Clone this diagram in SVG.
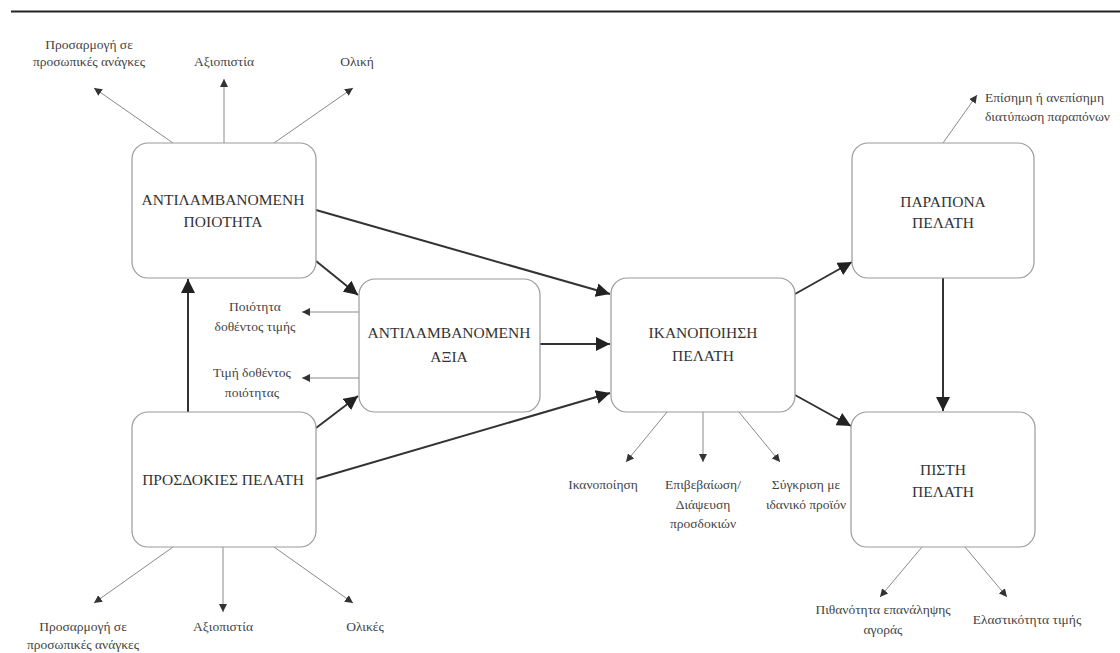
<svg xmlns="http://www.w3.org/2000/svg" width="1120" height="653" viewBox="0 0 1120 653">
  <defs>
    <style>
      .box { fill: #ffffff; stroke: #9a9a9a; stroke-width: 1.2; }
      .title { font-size: 15.5px; fill: #333333; text-anchor: middle; }
      .lbl { font-size: 13.5px; fill: #444444; text-anchor: middle; }
      .main { stroke: #333333; stroke-width: 2; fill: none; }
      .thin { stroke: #8a8a8a; stroke-width: 1; fill: none; }
    </style>
    <marker id="big" viewBox="0 0 10 10" refX="10" refY="5" markerWidth="7" markerHeight="7" markerUnits="strokeWidth" orient="auto">
      <path d="M0,0 L10,5 L0,10 z" fill="#222222"/>
    </marker>
    <marker id="small" viewBox="0 0 10 10" refX="10" refY="5" markerWidth="8" markerHeight="8" markerUnits="strokeWidth" orient="auto">
      <path d="M0,0 L10,5 L0,10 z" fill="#333333"/>
    </marker>
  </defs>

  <rect width="1120" height="653" fill="#ffffff"/>

  <!-- header rule -->
  <line x1="11" y1="11.5" x2="1120" y2="11.5" stroke="#222222" stroke-width="2"/>

  <!-- connectors -->
  <g id="connectors">
    <!-- main flows -->
    <line class="main" x1="316" y1="210" x2="610" y2="294" marker-end="url(#big)"/>
    <line class="main" x1="316" y1="261" x2="358" y2="295" marker-end="url(#big)"/>
    <line class="main" x1="188" y1="412" x2="188" y2="279" marker-end="url(#big)"/>
    <line class="main" x1="316" y1="428" x2="358" y2="396" marker-end="url(#big)"/>
    <line class="main" x1="316" y1="479" x2="610" y2="393" marker-end="url(#big)"/>
    <line class="main" x1="540" y1="344" x2="610" y2="344" marker-end="url(#big)"/>
    <line class="main" x1="795" y1="294" x2="852" y2="262" marker-end="url(#big)"/>
    <line class="main" x1="795" y1="395" x2="851" y2="426" marker-end="url(#big)"/>
    <line class="main" x1="943" y1="278" x2="943" y2="411" marker-end="url(#big)"/>

    <!-- dimensions of perceived quality -->
    <line class="thin" x1="173" y1="143" x2="94" y2="88" marker-end="url(#small)"/>
    <line class="thin" x1="224" y1="143" x2="224" y2="79" marker-end="url(#small)"/>
    <line class="thin" x1="274" y1="143" x2="353" y2="88" marker-end="url(#small)"/>

    <!-- dimensions of perceived value -->
    <line class="thin" x1="359" y1="312" x2="302" y2="312" marker-end="url(#small)"/>
    <line class="thin" x1="359" y1="378" x2="302" y2="378" marker-end="url(#small)"/>

    <!-- dimensions of satisfaction -->
    <line class="thin" x1="667" y1="412" x2="626" y2="462" marker-end="url(#small)"/>
    <line class="thin" x1="703" y1="412" x2="703" y2="462" marker-end="url(#small)"/>
    <line class="thin" x1="739" y1="412" x2="780" y2="462" marker-end="url(#small)"/>

    <!-- complaint channel -->
    <line class="thin" x1="943" y1="143" x2="977" y2="95" marker-end="url(#small)"/>

    <!-- loyalty outcomes -->
    <line class="thin" x1="922" y1="547" x2="880" y2="597" marker-end="url(#small)"/>
    <line class="thin" x1="965" y1="547" x2="1007" y2="597" marker-end="url(#small)"/>

    <!-- dimensions of expectations -->
    <line class="thin" x1="173" y1="547" x2="94" y2="603" marker-end="url(#small)"/>
    <line class="thin" x1="223" y1="547" x2="223" y2="612" marker-end="url(#small)"/>
    <line class="thin" x1="274" y1="547" x2="353" y2="603" marker-end="url(#small)"/>
  </g>

  <g font-family="'Liberation Serif', 'DejaVu Serif', 'Times New Roman', serif">
  <!-- nodes -->
  <g id="perceived-quality">
    <rect class="box" x="132" y="143" width="184" height="135" rx="16"/>
    <text class="title" x="223" y="205">ΑΝΤΙΛΑΜΒΑΝΟΜΕΝΗ</text>
    <text class="title" x="223" y="227">ΠΟΙΟΤΗΤΑ</text>
  </g>

  <g id="perceived-value">
    <rect class="box" x="359" y="279" width="181" height="133" rx="16"/>
    <text class="title" x="449" y="338">ΑΝΤΙΛΑΜΒΑΝΟΜΕΝΗ</text>
    <text class="title" x="449" y="362">ΑΞΙΑ</text>
  </g>

  <g id="satisfaction">
    <rect class="box" x="611" y="278" width="184" height="134" rx="16"/>
    <text class="title" x="703" y="338">ΙΚΑΝΟΠΟΙΗΣΗ</text>
    <text class="title" x="703" y="361">ΠΕΛΑΤΗ</text>
  </g>

  <g id="complaints">
    <rect class="box" x="852" y="143" width="182" height="135" rx="16"/>
    <text class="title" x="943" y="207">ΠΑΡΑΠΟΝΑ</text>
    <text class="title" x="943" y="228">ΠΕΛΑΤΗ</text>
  </g>

  <g id="loyalty">
    <rect class="box" x="851" y="412" width="184" height="135" rx="16"/>
    <text class="title" x="943" y="475">ΠΙΣΤΗ</text>
    <text class="title" x="943" y="497">ΠΕΛΑΤΗ</text>
  </g>

  <g id="expectations">
    <rect class="box" x="132" y="412" width="184" height="135" rx="16"/>
    <text class="title" x="223" y="485">ΠΡΟΣΔΟΚΙΕΣ ΠΕΛΑΤΗ</text>
  </g>

  <!-- labels -->
  <g id="labels">
    <text class="lbl" x="89" y="49">Προσαρμογή σε</text>
    <text class="lbl" x="89" y="66">προσωπικές ανάγκες</text>
    <text class="lbl" x="224" y="66">Αξιοπιστία</text>
    <text class="lbl" x="357" y="66">Ολική</text>

    <text class="lbl" x="255" y="311">Ποιότητα</text>
    <text class="lbl" x="255" y="331">δοθέντος τιμής</text>
    <text class="lbl" x="252" y="377">Τιμή δοθέντος</text>
    <text class="lbl" x="252" y="397">ποιότητας</text>

    <text class="lbl" x="985" y="102" text-anchor="start" style="text-anchor:start">Επίσημη ή ανεπίσημη</text>
    <text class="lbl" x="985" y="121" text-anchor="start" style="text-anchor:start">διατύπωση παραπόνων</text>

    <text class="lbl" x="603" y="489">Ικανοποίηση</text>
    <text class="lbl" x="703" y="489">Επιβεβαίωση/</text>
    <text class="lbl" x="703" y="509">Διάψευση</text>
    <text class="lbl" x="703" y="528">προσδοκιών</text>
    <text class="lbl" x="806" y="489">Σύγκριση με</text>
    <text class="lbl" x="806" y="509">ιδανικό προϊόν</text>

    <text class="lbl" x="883" y="614">Πιθανότητα επανάληψης</text>
    <text class="lbl" x="883" y="634">αγοράς</text>
    <text class="lbl" x="1027" y="624">Ελαστικότητα τιμής</text>

    <text class="lbl" x="83" y="631">Προσαρμογή σε</text>
    <text class="lbl" x="83" y="649">προσωπικές ανάγκες</text>
    <text class="lbl" x="223" y="631">Αξιοπιστία</text>
    <text class="lbl" x="365" y="631">Ολικές</text>
  </g>
  </g>
</svg>
